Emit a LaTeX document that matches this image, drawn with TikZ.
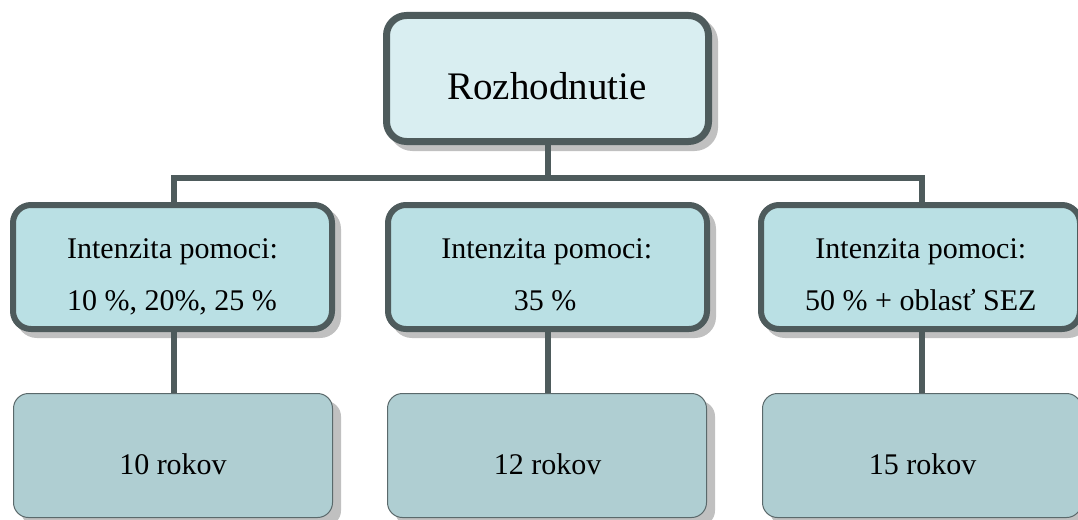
\documentclass[tikz,border=0pt]{standalone}
\usepackage{fontspec}
\setmainfont{Liberation Serif}
\definecolor{bord}{RGB}{78,91,92}
\definecolor{topfill}{RGB}{217,238,241}
\definecolor{midfill}{RGB}{186,224,228}
\definecolor{botfill}{RGB}{175,206,210}
\definecolor{shc}{RGB}{192,192,192}
\definecolor{botbord}{RGB}{90,105,107}
\tikzset{
  topbox/.style={rectangle, rounded corners=20pt, draw=bord, fill=topfill, line width=7pt,
    minimum width=322pt, minimum height=126pt, inner sep=0pt,
    preaction={draw=shc, fill=shc, line width=7pt, transform canvas={shift={(6pt,-6pt)}}}},
  midbox/.style={rectangle, rounded corners=18pt, draw=bord, fill=midfill, line width=6pt,
    minimum width=319pt, minimum height=124pt, inner sep=0pt,
    preaction={draw=shc, fill=shc, line width=6pt, transform canvas={shift={(6pt,-6pt)}}}},
  botbox/.style={rectangle, rounded corners=15pt, draw=botbord, fill=botfill, line width=1pt,
    minimum width=319pt, minimum height=124pt, inner sep=0pt,
    preaction={draw=shc, fill=shc, line width=1pt, transform canvas={shift={(8pt,-8pt)}}}},
  conn/.style={draw=bord, line width=6pt},
  toptext/.style={anchor=base, inner sep=0pt, font=\fontsize{39pt}{44pt}\selectfont},
  smalltext/.style={anchor=base, inner sep=0pt, font=\fontsize{30pt}{34pt}\selectfont},
}
\begin{document}
\begin{tikzpicture}[x=1pt,y=-1pt]
\useasboundingbox (0,0) rectangle (1078,519);
\coordinate (hl) at (173.5,178);
\coordinate (hr) at (922,178);
\coordinate (hm) at (548,178);
% boxes
\node[topbox] (top) at (547.5,78.5) {};
\node[midbox] (m1) at (172.5,267) {};
\node[midbox] (m2) at (547.5,267) {};
\node[midbox] (m3) at (920.5,267) {};
\node[botbox] (b1) at (173,455.5) {};
\node[botbox] (b2) at (547,455.5) {};
\node[botbox] (b3) at (922,455.5) {};
% connectors
\draw[conn] (top.south -| hm) -- (hm);
\draw[conn, line join=miter] (hl |- m1.north) -- (hl) -- (hr) -- (hr |- m3.north);
\draw[conn] (hl |- m1.south) -- (hl |- b1.north);
\draw[conn] (hm |- m2.south) -- (hm |- b2.north);
\draw[conn] (hr |- m3.south) -- (hr |- b3.north);
% texts
\node[toptext] (ttop) at (547,99) {Rozhodnutie};
\node[smalltext] (t1a) at (172.5,258) {Intenzita pomoci:};
\node[smalltext] (t1b) at (172,310) {10 \%, 20\%, 25 \%};
\node[smalltext] (t2a) at (546.7,258) {Intenzita pomoci:};
\node[smalltext] (t2b) at (545,310) {35 \%};
\node[smalltext] (t3a) at (920.8,258) {Intenzita pomoci:};
\node[smalltext] (t3b) at (920.8,310) {50 \% + oblasť SEZ};
\node[smalltext] (t4) at (173,474) {10 rokov};
\node[smalltext] (t5) at (547.5,474) {12 rokov};
\node[smalltext] (t6) at (922.5,474) {15 rokov};
\end{tikzpicture}
\end{document}
